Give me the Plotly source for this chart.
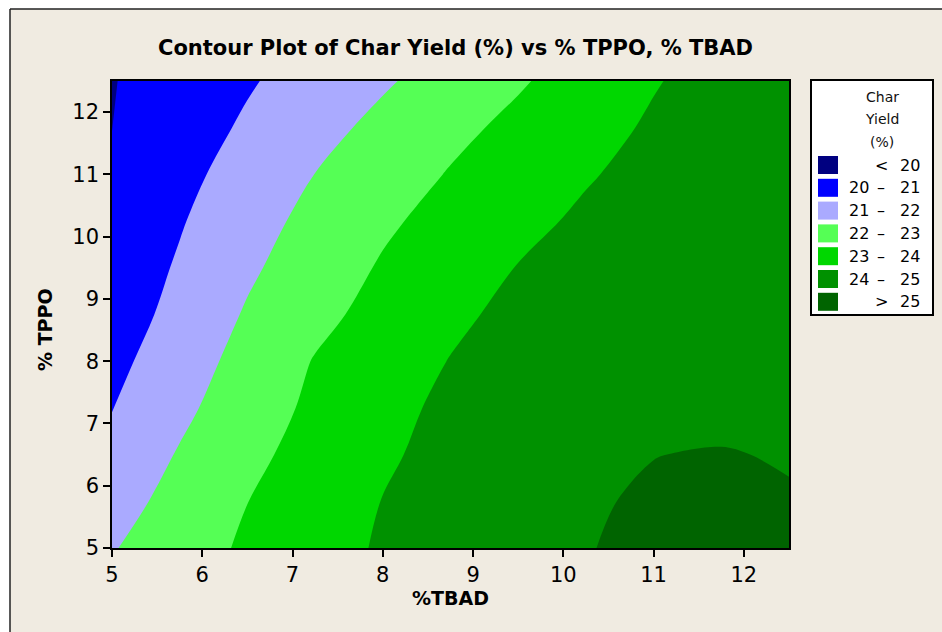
import plotly.graph_objects as go

# ---------------- data ----------------
tbad = [5, 5.75, 6.5, 7.25, 8, 8.75, 9.5, 10.25, 11, 11.75, 12.5]   # % TBAD (x)
tppo = [5, 5.75, 6.5, 7.25, 8, 8.75, 9.5, 10.25, 11, 11.75, 12.5]   # % TPPO (y)
# char yield (%) on the grid: one row per TPPO value, one column per TBAD value
yield_5_00 = [21.94, 22.56, 23.14, 23.63, 24.10, 24.45, 24.78, 24.987, 25.07, 25.09, 25.08]
yield_5_75 = [21.62, 22.32, 22.99, 23.51, 24.02, 24.42, 24.75, 24.969, 25.037, 25.06, 25.03]
yield_6_50 = [21.30, 22.07, 22.77, 23.35, 23.87, 24.29, 24.60, 24.83, 24.995, 25.02, 24.973]
yield_7_25 = [20.97, 21.79, 22.53, 23.19, 23.72, 24.20, 24.50, 24.75, 24.87, 24.90, 24.85]
yield_8_00 = [20.74, 21.55, 22.32, 23.05, 23.53, 24.03, 24.38, 24.60, 24.74, 24.80, 24.76]
yield_8_75 = [20.50, 21.30, 22.09, 22.75, 23.31, 23.81, 24.24, 24.50, 24.65, 24.72, 24.70]
yield_9_50 = [20.40, 21.10, 21.85, 22.50, 23.09, 23.56, 24.03, 24.36, 24.56, 24.65, 24.65]
yield_10_25 = [20.25, 20.93, 21.63, 22.27, 22.85, 23.32, 23.75, 24.16, 24.44, 24.57, 24.60]
yield_11_00 = [20.12, 20.75, 21.38, 22.01, 22.54, 23.06, 23.49, 23.92, 24.30, 24.50, 24.55]
yield_11_75 = [19.99, 20.56, 21.13, 21.70, 22.24, 22.76, 23.23, 23.68, 24.12, 24.42, 24.50]
yield_12_50 = [19.96, 20.44, 20.91, 21.40, 21.89, 22.39, 22.90, 23.42, 23.94, 24.35, 24.45]

levels_low = ["", "20", "21", "22", "23", "24", ""]
levels_sym = ["<", "\u2013", "\u2013", "\u2013", "\u2013", "\u2013", ">"]
levels_high = ["20", "21", "22", "23", "24", "25", "25"]
band_colors = ["#000080", "#0000FF", "#AAAAFF", "#55FF55", "#00D700", "#009100", "#006400"]
x_ticks = [5, 6, 7, 8, 9, 10, 11, 12]
y_ticks = [5, 6, 7, 8, 9, 10, 11, 12]

z = [yield_5_00, yield_5_75, yield_6_50, yield_7_25, yield_8_00, yield_8_75,
     yield_9_50, yield_10_25, yield_11_00, yield_11_75, yield_12_50]

# ---------------- layout helpers ----------------
W, H = 942, 632
L, R, T, B = 112, 789, 81, 548      # plot area in pixels
BG = "#F0EBE1"
FONT = "Tahoma, Verdana, DejaVu Sans, sans-serif"


def px(x):
    return (x - L) / (R - L)


def py(y):
    return (B - y) / (B - T)


n = len(band_colors)
colorscale = [[i / (n - 1), c] for i, c in enumerate(band_colors)]

fig = go.Figure()
fig.add_trace(go.Contour(
    x=tbad, y=tppo, z=z,
    colorscale=colorscale,
    contours=dict(start=20, end=25, size=1, coloring="fill", showlines=False),
    line=dict(width=0),
    showscale=False,
    hoverinfo="x+y+z",
))

shapes = []
annotations = []

# outer frame (white margin on left/top, beige panel with dark border)
shapes.append(dict(type="rect", xref="paper", yref="paper",
                   x0=px(0), x1=px(10), y0=py(W), y1=py(0),
                   fillcolor="white", line=dict(width=0), layer="below"))
shapes.append(dict(type="rect", xref="paper", yref="paper",
                   x0=px(0), x1=px(W + 10), y0=py(9), y1=py(0),
                   fillcolor="white", line=dict(width=0), layer="below"))
shapes.append(dict(type="line", xref="paper", yref="paper",
                   x0=px(10), x1=px(10), y0=py(9), y1=py(H + 10),
                   line=dict(color="#222222", width=1.5)))
shapes.append(dict(type="line", xref="paper", yref="paper",
                   x0=px(10), x1=px(W + 10), y0=py(9), y1=py(9),
                   line=dict(color="#222222", width=1.5)))

# legend box
LX0, LX1, LY0, LY1 = 811, 933, 80, 315
shapes.append(dict(type="rect", xref="paper", yref="paper",
                   x0=px(LX0), x1=px(LX1), y0=py(LY1), y1=py(LY0),
                   fillcolor="white", line=dict(color="black", width=2)))
for i, t in enumerate(["Char", "Yield", "(%)"]):
    annotations.append(dict(xref="paper", yref="paper", x=px(882), y=py(97 + 22.5 * i),
                            text=t, showarrow=False, xanchor="center", yanchor="middle",
                            font=dict(family=FONT, size=14, color="#111111")))
row0, drow = 165, 22.8
for i in range(n):
    yc = row0 + drow * i
    shapes.append(dict(type="rect", xref="paper", yref="paper",
                       x0=px(818), x1=px(838), y0=py(yc + 9), y1=py(yc - 9),
                       fillcolor=band_colors[i], line=dict(width=0)))
    for txt, xc in ((levels_low[i], 859), (levels_sym[i], 881), (levels_high[i], 910)):
        if txt:
            annotations.append(dict(xref="paper", yref="paper", x=px(xc), y=py(yc),
                                    text=txt, showarrow=False, xanchor="center",
                                    yanchor="middle",
                                    font=dict(family=FONT, size=16, color="black")))

# title and axis titles
annotations.append(dict(xref="paper", yref="paper", x=px(455), y=py(48),
                        text="<b>Contour Plot of Char Yield (%) vs % TPPO, % TBAD</b>",
                        showarrow=False, xanchor="center", yanchor="middle",
                        font=dict(family=FONT, size=21, color="black")))
annotations.append(dict(xref="paper", yref="paper", x=px(450), y=py(598),
                        text="<b>%TBAD</b>", showarrow=False, xanchor="center",
                        yanchor="middle", font=dict(family=FONT, size=19, color="black")))
annotations.append(dict(xref="paper", yref="paper", x=px(45), y=py(330),
                        text="<b>% TPPO</b>", showarrow=False, xanchor="center",
                        yanchor="middle", textangle=-90,
                        font=dict(family=FONT, size=19, color="black")))

axis_common = dict(showgrid=False, zeroline=False, showline=True, linecolor="black",
                   linewidth=1.5, mirror=True, ticks="outside", ticklen=7,
                   tickwidth=1.5, tickcolor="black",
                   tickfont=dict(family=FONT, size=21, color="black"))

fig.update_layout(
    width=W, height=H, autosize=False,
    margin=dict(l=L, r=W - R, t=T, b=H - B, pad=0),
    paper_bgcolor=BG, plot_bgcolor=BG,
    xaxis=dict(range=[5, 12.5], tickvals=x_ticks, ticktext=[str(v) for v in x_ticks],
               **axis_common),
    yaxis=dict(range=[5, 12.5], tickvals=y_ticks, ticktext=[str(v) for v in y_ticks],
               **axis_common),
    shapes=shapes,
    annotations=annotations,
    showlegend=False,
)

fig.write_html("out.html")
